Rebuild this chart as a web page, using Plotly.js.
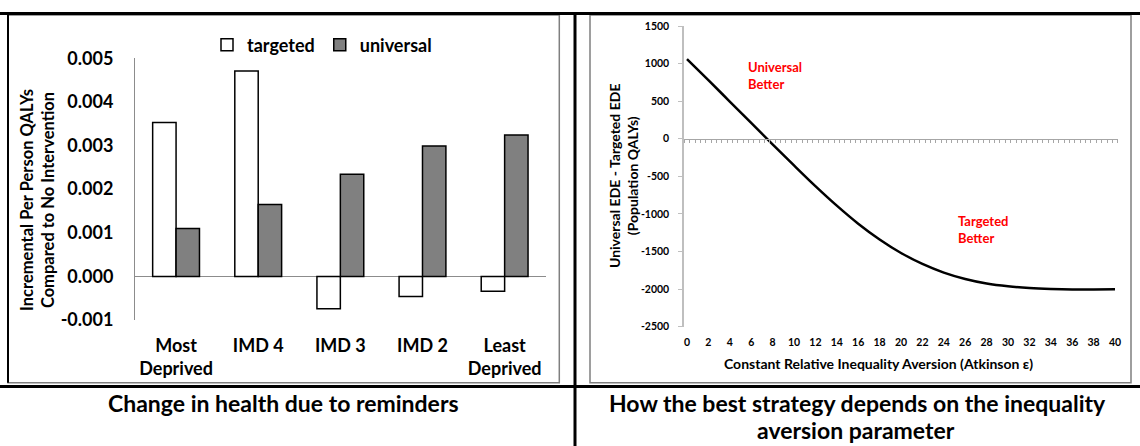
<!DOCTYPE html>
<html>
<head>
<meta charset="utf-8">
<script src="https://cdn.plot.ly/plotly-3.0.1.min.js"></script>
<style>html,body{margin:0;padding:0;background:#fff;}#chart{width:1140px;height:446px;}</style>
</head>
<body>
<div id="chart"></div>
<script>
// ---------- data: left chart ----------
const categories = ['Most<br>Deprived', 'IMD 4', 'IMD 3', 'IMD 2', 'Least<br>Deprived'];
const targeted  = [0.00353, 0.00471, -0.00074, -0.00046, -0.00034];
const universal = [0.00110, 0.00165, 0.00234, 0.00299, 0.00324];
const barTickVals = [-0.001, 0, 0.001, 0.002, 0.003, 0.004, 0.005];
const barTickText = ['-0.001', '0.000', '0.001', '0.002', '0.003', '0.004', '0.005'];

// ---------- data: right chart ----------
const epsilon = [0, 2, 4, 6, 8, 10, 12, 14, 16, 18, 20, 22, 24, 26, 28, 30, 32, 34, 36, 38, 40];
const edeDiff = [1060, 780, 495, 210, -75, -355, -630, -890, -1130, -1340, -1520, -1665, -1780, -1865, -1925, -1962, -1985, -1998, -2005, -2005, -2003];
const lineTickVals = [-2500, -2000, -1500, -1000, -500, 0, 500, 1000, 1500];
const lineTickText = ['-2500', '-2000', '-1500', '-1000', '-500', '0', '500', '1000', '1500'];
const xTickVals = [0, 2, 4, 6, 8, 10, 12, 14, 16, 18, 20, 22, 24, 26, 28, 30, 32, 34, 36, 38, 40];

// ---------- layout helpers (pixel -> paper) ----------
const W = 1140, H = 446;
const px = x => x / W;
const py = y => 1 - y / H;
const FONT = 'Lato, "Open Sans", sans-serif';
const f = (size, color) => ({family: FONT, size: size, color: color || '#000', weight: 'bold'});

const lineYRange = [-2500, 1500];
const lineYDomain = [py(326.7), py(26)];
const zeroPos = lineYDomain[0] + (0 - lineYRange[0]) / (lineYRange[1] - lineYRange[0]) * (lineYDomain[1] - lineYDomain[0]);
const lineXRange = [-0.25, 40.25];

const traces = [
  {type: 'bar', name: 'targeted', x: categories, y: targeted, xaxis: 'x', yaxis: 'y',
   marker: {color: '#ffffff', line: {color: '#000', width: 1.5}}},
  {type: 'bar', name: 'universal', x: categories, y: universal, xaxis: 'x', yaxis: 'y',
   marker: {color: '#808080', line: {color: '#000', width: 1.5}}},
  {type: 'scatter', mode: 'lines', x: epsilon, y: edeDiff, xaxis: 'x2', yaxis: 'y2', showlegend: false,
   line: {color: '#000', width: 2.5, shape: 'spline', smoothing: 1}},
  {type: 'scatter', mode: 'lines', x: [], y: [], xaxis: 'x3', yaxis: 'y2', showlegend: false, hoverinfo: 'skip'}
];

const layout = {
  width: W, height: H,
  margin: {l: 0, r: 0, t: 0, b: 0},
  paper_bgcolor: '#fff', plot_bgcolor: 'rgba(0,0,0,0)',
  font: {family: FONT},
  barmode: 'group', bargap: 0.43, bargroupgap: 0,
  showlegend: true,
  legend: {orientation: 'h', x: px(207), y: py(45), xanchor: 'left', yanchor: 'middle',
           font: f(18), bgcolor: 'rgba(0,0,0,0)', itemwidth: 30, tracegroupgap: 0},
  xaxis: {domain: [px(135), px(545.7)], anchor: 'y', type: 'category',
          showline: false, showgrid: false, zeroline: false, ticks: '',
          tickfont: f(18), ticklabelstandoff: 13, fixedrange: true},
  yaxis: {domain: [py(320), py(58.3)], anchor: 'x', range: [-0.001, 0.005],
          tickvals: barTickVals, ticktext: barTickText,
          showline: true, linecolor: '#8c8c8c', linewidth: 1, showgrid: false,
          zeroline: true, zerolinecolor: '#8c8c8c', zerolinewidth: 1.5, ticks: '',
          tickfont: f(18), ticklabelstandoff: 17, fixedrange: true},
  xaxis2: {domain: [px(684.3), px(1117.7)], anchor: 'y2', range: lineXRange,
           tickvals: xTickVals, showline: false, showgrid: false, zeroline: false, ticks: '',
           tickfont: f(10.5), ticklabelstandoff: 8, fixedrange: true},
  yaxis2: {domain: lineYDomain, anchor: 'x2', range: lineYRange,
           tickvals: lineTickVals, ticktext: lineTickText,
           showline: true, linecolor: '#bfbfbf', linewidth: 2, showgrid: false, zeroline: false,
           ticks: 'outside', ticklen: 4, tickcolor: '#bfbfbf', tickwidth: 1,
           tickfont: f(10.5), ticklabelstandoff: 7, fixedrange: true},
  xaxis3: {overlaying: 'x2', anchor: 'free', position: zeroPos, range: lineXRange,
           tick0: -0.25, dtick: 0.5, ticks: 'outside', ticklen: 3, tickcolor: '#a6a6a6', tickwidth: 1,
           showticklabels: false, showline: true, linecolor: '#a6a6a6', linewidth: 1.5,
           showgrid: false, zeroline: false, fixedrange: true},
  annotations: [
    {xref: 'paper', yref: 'paper', x: px(38), y: py(200), text: 'Incremental Per Person QALYs<br>Compared to No Intervention',
     textangle: -90, showarrow: false, font: f(16.5), xanchor: 'center', yanchor: 'middle'},
    {xref: 'paper', yref: 'paper', x: px(623), y: py(176), text: 'Universal EDE - Targeted EDE<br>(Population QALYs)',
     textangle: -90, showarrow: false, font: f(14), xanchor: 'center', yanchor: 'middle'},
    {xref: 'paper', yref: 'paper', x: px(878), y: py(363.3), text: 'Constant Relative Inequality Aversion (Atkinson ε)',
     showarrow: false, font: f(14), xanchor: 'center', yanchor: 'middle'},
    {xref: 'paper', yref: 'paper', x: px(745.7), y: py(75), text: 'Universal<br>Better', align: 'left',
     showarrow: false, font: f(13, '#ff0000'), xanchor: 'left', yanchor: 'middle'},
    {xref: 'paper', yref: 'paper', x: px(956), y: py(229), text: 'Targeted<br>Better', align: 'left',
     showarrow: false, font: f(13, '#ff0000'), xanchor: 'left', yanchor: 'middle'},
    {xref: 'paper', yref: 'paper', x: px(283), y: py(403), text: 'Change in health due to reminders',
     showarrow: false, font: f(23), xanchor: 'center', yanchor: 'middle'},
    {xref: 'paper', yref: 'paper', x: px(857), y: py(403), text: 'How the best strategy depends on the inequality',
     showarrow: false, font: f(23), xanchor: 'center', yanchor: 'middle'},
    {xref: 'paper', yref: 'paper', x: px(856), y: py(430), text: 'aversion parameter',
     showarrow: false, font: f(23), xanchor: 'center', yanchor: 'middle'}
  ],
  shapes: [
    {type: 'rect', xref: 'paper', yref: 'paper', x0: px(8), x1: px(559.3), y0: py(382.7), y1: py(15),
     line: {color: '#7f7f7f', width: 1.5}},
    {type: 'line', xref: 'paper', yref: 'paper', x0: px(8), x1: px(8), y0: py(382.7), y1: py(14),
     line: {color: '#000', width: 2}},
    {type: 'rect', xref: 'paper', yref: 'paper', x0: px(590), x1: px(1131), y0: py(382.7), y1: py(15),
     line: {color: '#7f7f7f', width: 1.5}},
    {type: 'line', xref: 'paper', yref: 'paper', x0: 0, x1: 1, y0: py(13.5), y1: py(13.5),
     line: {color: '#000', width: 3}},
    {type: 'line', xref: 'paper', yref: 'paper', x0: 0, x1: 1, y0: py(386.5), y1: py(386.5),
     line: {color: '#000', width: 3}},
    {type: 'line', xref: 'paper', yref: 'paper', x0: px(575), x1: px(575), y0: 0, y1: py(12),
     line: {color: '#000', width: 3}}
  ]
};

Plotly.newPlot('chart', traces, layout, {displayModeBar: false, staticPlot: true});
</script>
</body>
</html>
